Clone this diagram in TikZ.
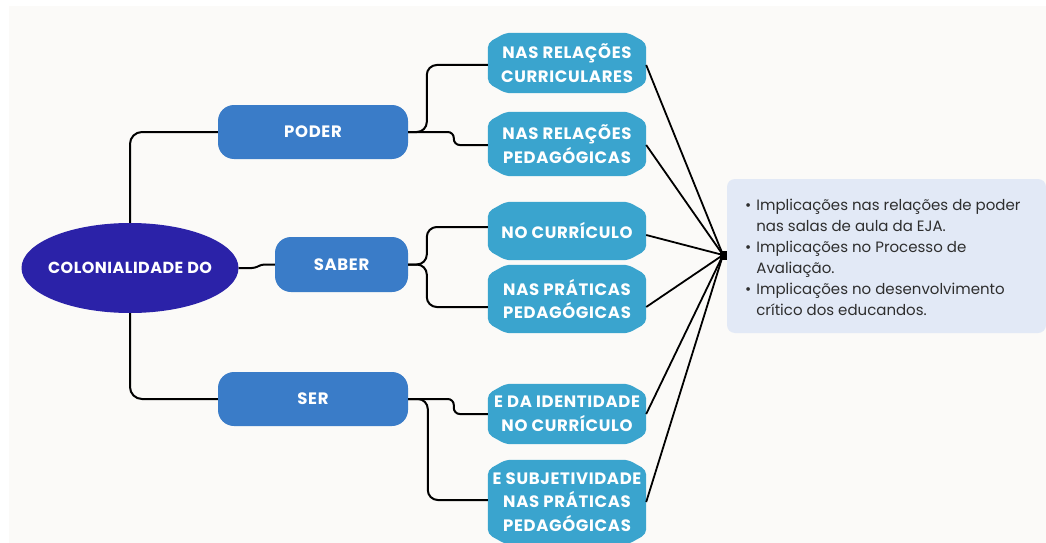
\documentclass[tikz,border=0pt]{standalone}
\usepackage{fontspec}
\setmainfont{Poppins}
\usetikzlibrary{calc,backgrounds,shapes.geometric}
\definecolor{panel}{HTML}{FBFAF8}
\definecolor{ellcol}{HTML}{2B22A8}
\definecolor{midblue}{HTML}{3A7CC8}
\definecolor{hexblue}{HTML}{3AA4CE}
\definecolor{infobg}{HTML}{E2E9F6}
\definecolor{infotext}{HTML}{2E2E2E}
\begin{document}
\begin{tikzpicture}[x=1pt,y=-1pt,
  conn/.style={draw=black, line width=2pt},
  boxfont/.style={font=\bfseries\fontsize{16.5}{23.5}\selectfont\addfontfeatures{LetterSpace=4}},
  mainell/.style={ellipse, fill=ellcol, minimum width=217pt, minimum height=90pt, inner sep=0pt},
  elltext/.style={inner sep=0pt, text=white, font=\bfseries\fontsize{16}{20}\selectfont\addfontfeatures{LetterSpace=3}},
  catbox/.style={rounded corners=16pt, fill=midblue, minimum height=54pt, inner sep=0pt, text=white, boxfont},
  hexbox/.style={minimum width=158pt, inner sep=0pt, text=white, align=center, boxfont},
  infobox/.style={fill=infobg, rounded corners=8pt, minimum width=319pt, minimum height=154pt, inner sep=0pt},
  hubdot/.style={fill=black, minimum width=7pt, minimum height=9pt, inner sep=0pt}
]
\useasboundingbox (0,0) rectangle (1046,543);

% main nodes
\node[mainell] (C) at (130,268) {};
\node[elltext] (Ct) at (C.center) {COLONIALIDADE DO};
\node[catbox, minimum width=190pt] (P) at (313,132) {PODER};
\node[catbox, minimum width=133pt, minimum height=55pt] (S) at (341.5,264.5) {SABER};
\node[catbox, minimum width=190pt] (R) at (313,399) {SER};

\node[hexbox, minimum height=60pt] (b1) at (567,63) {NAS RELAÇÕES\\CURRICULARES};
\node[hexbox, minimum height=64pt] (b2) at (567,144) {NAS RELAÇÕES\\PEDAGÓGICAS};
\node[hexbox, minimum height=58pt] (b3) at (567,231) {NO CURRÍCULO};
\node[hexbox, minimum height=68pt] (b4) at (567,299) {NAS PRÁTICAS\\PEDAGÓGICAS};
\node[hexbox, minimum height=60pt] (b5) at (567,414) {E DA IDENTIDADE\\NO CURRÍCULO};
\node[hexbox, minimum height=84pt] (b6) at (567,502) {E SUBJETIVIDADE\\NAS PRÁTICAS\\PEDAGÓGICAS};

\node[infobox] (info) at (886.5,256) {};
\node[anchor=west, text=infotext, inner sep=0pt, font=\fontsize{15}{21}\selectfont] (infotxt) at (745,259)
{\begin{tabular}{@{}l@{\hspace{5pt}}l@{}}
\textbullet & Implicações nas relações de poder\\
 & nas salas de aula da EJA.\\
\textbullet & Implicações no Processo de\\
 & Avaliação.\\
\textbullet & Implicações no desenvolvimento\\
 & crítico dos educandos.
\end{tabular}};

\node[hubdot] (hub) at (723,255) {};

% background panel and hexagonal boxes
\begin{scope}[on background layer]
\fill[panel] (9,6) rectangle (1046,543);
\foreach \n in {b1,b2,b3,b4,b5,b6}{
  \fill[hexblue, rounded corners=5pt]
    ($(\n.north west)+(0,10)$) -- ($(\n.north west)+(18,0)$) --
    ($(\n.north east)+(-18,0)$) -- ($(\n.north east)+(0,10)$) --
    ($(\n.south east)+(0,-10)$) -- ($(\n.south east)+(-18,0)$) --
    ($(\n.south west)+(18,0)$) -- ($(\n.south west)+(0,-10)$) -- cycle;
}
\end{scope}

% connectors from the ellipse
\draw[conn, rounded corners=12pt] (C.north) |- (P.west);
\draw[conn, rounded corners=12pt] (C.south) |- (R.west);
\draw[conn, rounded corners=3pt] (C.east) -- ($(C.east)+(16,0)$) -- ($(S.west)+(-13,0)$) -- (S.west);

% PODER
\draw[conn, rounded corners=10pt] (P.east) -| ($(b1.west)+(-61,2)$) -- ($(b1.west)+(0,2)$);
\draw[conn, rounded corners=6pt] (P.east) -| ($(b2.west)+(-34,1)$) -- ($(b2.west)+(0,1)$);

% SABER
\draw[conn, rounded corners=10pt] (S.east) -| ($(b3.west)+(-61,-4)$) -- ($(b3.west)+(0,-4)$);
\draw[conn, rounded corners=10pt] (S.east) -| ($(b4.west)+(-61,8)$) -- ($(b4.west)+(0,8)$);

% SER
\draw[conn, rounded corners=6pt] (R.east) -| ($(b5.west)+(-34,0)$) -- (b5.west);
\draw[conn, rounded corners=10pt] (R.east) -| ($(b6.west)+(-60,-2)$) -- ($(b6.west)+(0,-2)$);

% to hub
\foreach \n/\dy in {b1/2,b2/1,b3/4,b4/8,b5/0,b6/0}{
  \draw[conn, line width=1.8pt] ($(\n.east)+(0,\dy)$) -- (hub.center);
}
\end{tikzpicture}
\end{document}
